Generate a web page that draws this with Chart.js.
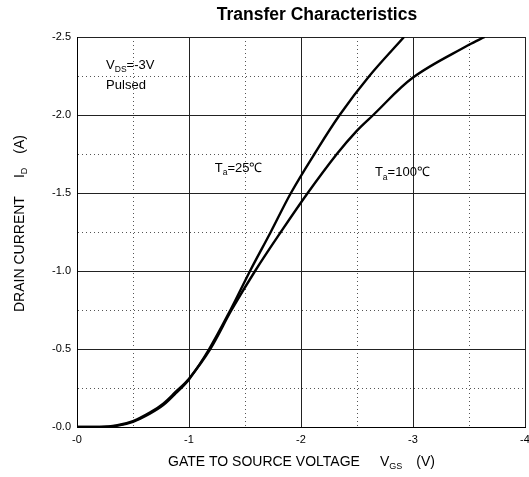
<!DOCTYPE html>
<html>
<head>
<meta charset="utf-8">
<title>Transfer Characteristics</title>
<script src="https://cdn.jsdelivr.net/npm/chart.js@4/dist/chart.umd.min.js"></script>
<style>
  html, body { margin: 0; padding: 0; background: #fff; overflow: hidden; }
  #wrap { width: 529px; height: 477px; position: relative; }
</style>
</head>
<body>
<div id="wrap"><canvas id="transferChart"></canvas></div>
<script>
// ---- data (gate-source voltage V, drain current A) ----
const vgs25 = [0, -0.2, -0.35, -0.5, -0.65, -0.77, -0.88, -1.0, -1.18, -1.37, -1.545, -1.73, -1.91, -2.12, -2.345, -2.61, -2.92];
const id25  = [0, 0, -0.007, -0.033, -0.085, -0.14, -0.215, -0.305, -0.5, -0.75, -1.0, -1.25, -1.5, -1.75, -2.0, -2.25, -2.5];

const vgs100 = [0, -0.2, -0.35, -0.5, -0.65, -0.77, -0.88, -1.0, -1.19, -1.38, -1.59, -1.82, -2.06, -2.32, -2.5, -2.645, -3.0, -3.5, -3.64];
const id100  = [0, 0, -0.01, -0.038, -0.092, -0.15, -0.225, -0.31, -0.5, -0.75, -1.0, -1.25, -1.5, -1.75, -1.9, -2.0, -2.24, -2.45, -2.5];

const xRange = [-4, 0];
const yRange = [-2.5, 0];

const FONT = '"Liberation Sans", Arial, sans-serif';

// text annotations placed in data coordinates
const notes = [
    { x: -0.26, y: -2.32, runs: [['V'], ['DS', true], ['=-3V']] },
    { x: -0.26, y: -2.19, runs: [['Pulsed']] },
    { x: -1.23, y: -1.66, runs: [['T'], ['a', true], ['=25\u2103']] },
    { x: -2.66, y: -1.63, runs: [['T'], ['a', true], ['=100\u2103']] }
];

const toPairs = (xs, ys) => xs.map((x, i) => ({ x: x, y: ys[i] }));

// draws a run of text pieces, subscripts smaller and lower
function drawRuns(ctx, runs, x, y, size, subSize) {
    let cx = x;
    runs.forEach(([t, sub, gap]) => {
        cx += gap || 0;
        ctx.font = `${sub ? subSize : size}px ${FONT}`;
        ctx.fillText(t, cx, sub ? y + size * 0.35 : y);
        cx += ctx.measureText(t).width;
    });
}

const isMajorX = v => Math.abs(v - Math.round(v)) < 1e-6;
const isMajorY = v => Math.abs(v * 2 - Math.round(v * 2)) < 1e-6;

const textPlugin = {
    id: 'chartText',
    afterDraw(chart) {
        const ctx = chart.ctx;
        const area = chart.chartArea;
        const xs = chart.scales.x, ys = chart.scales.y;
        ctx.save();
        ctx.fillStyle = '#000';
        ctx.textBaseline = 'middle';

        // title
        ctx.textAlign = 'center';
        ctx.font = `bold 17.5px ${FONT}`;
        ctx.fillText('Transfer Characteristics', (area.left + area.right) / 2 + 16, 15);

        // annotations
        ctx.textAlign = 'left';
        notes.forEach(n => {
            drawRuns(ctx, n.runs, xs.getPixelForValue(n.x), ys.getPixelForValue(n.y), 13, 8.5);
        });

        // x axis title
        drawRuns(ctx, [['GATE TO SOURCE VOLTAGE'], ['V', false, 20], ['GS', true], ['(V)', false, 14]],
            168, 462, 14, 9);

        // y axis title (rotated)
        ctx.translate(20, 312);
        ctx.rotate(-Math.PI / 2);
        drawRuns(ctx, [['DRAIN CURRENT'], ['I', false, 18], ['D', true], ['(A)', false, 14]],
            0, 0, 14, 9);
        ctx.restore();
    }
};

const lineStyle = {
    borderColor: '#000',
    borderWidth: 2.4,
    pointRadius: 0,
    fill: false,
    tension: 0.35
};

new Chart(document.getElementById('transferChart'), {
    type: 'line',
    data: {
        datasets: [
            Object.assign({ label: 'Ta=25', data: toPairs(vgs25, id25) }, lineStyle),
            Object.assign({ label: 'Ta=100', data: toPairs(vgs100, id100) }, lineStyle)
        ]
    },
    options: {
        responsive: true,
        maintainAspectRatio: false,
        animation: false,
        layout: { padding: { left: 0, top: 37, right: 4, bottom: 0 } },
        plugins: {
            legend: { display: false },
            tooltip: { enabled: false }
        },
        scales: {
            x: {
                type: 'linear',
                min: xRange[0],
                max: xRange[1],
                reverse: true,
                afterFit: s => { s.height = 50; s.paddingRight = 0; s.paddingLeft = 0; },
                ticks: {
                    stepSize: 0.5,
                    padding: 6,
                    maxRotation: 0,
                    autoSkip: false,
                    color: '#000',
                    font: { family: FONT, size: 11 },
                    callback: v => isMajorX(v) ? (v === 0 ? '-0' : String(v)) : ''
                },
                grid: {
                    drawTicks: false,
                    lineWidth: 1,
                    color: c => (c.tick && isMajorX(c.tick.value)) ? '#222' : '#555'
                },
                border: {
                    display: true,
                    color: '#000',
                    width: 1,
                    dash: c => (c.tick && !isMajorX(c.tick.value)) ? [1, 3] : []
                }
            },
            y: {
                type: 'linear',
                min: yRange[0],
                max: yRange[1],
                reverse: true,
                afterFit: s => { s.width = 77; },
                ticks: {
                    stepSize: 0.25,
                    padding: 6,
                    autoSkip: false,
                    color: '#000',
                    font: { family: FONT, size: 11 },
                    callback: v => isMajorY(v) ? (v === 0 ? '-0.0' : v.toFixed(1)) : ''
                },
                grid: {
                    drawTicks: false,
                    lineWidth: 1,
                    color: c => (c.tick && isMajorY(c.tick.value)) ? '#222' : '#555'
                },
                border: {
                    display: true,
                    color: '#000',
                    width: 1,
                    dash: c => (c.tick && !isMajorY(c.tick.value)) ? [1, 3] : []
                }
            }
        }
    },
    plugins: [textPlugin]
});
</script>
</body>
</html>
